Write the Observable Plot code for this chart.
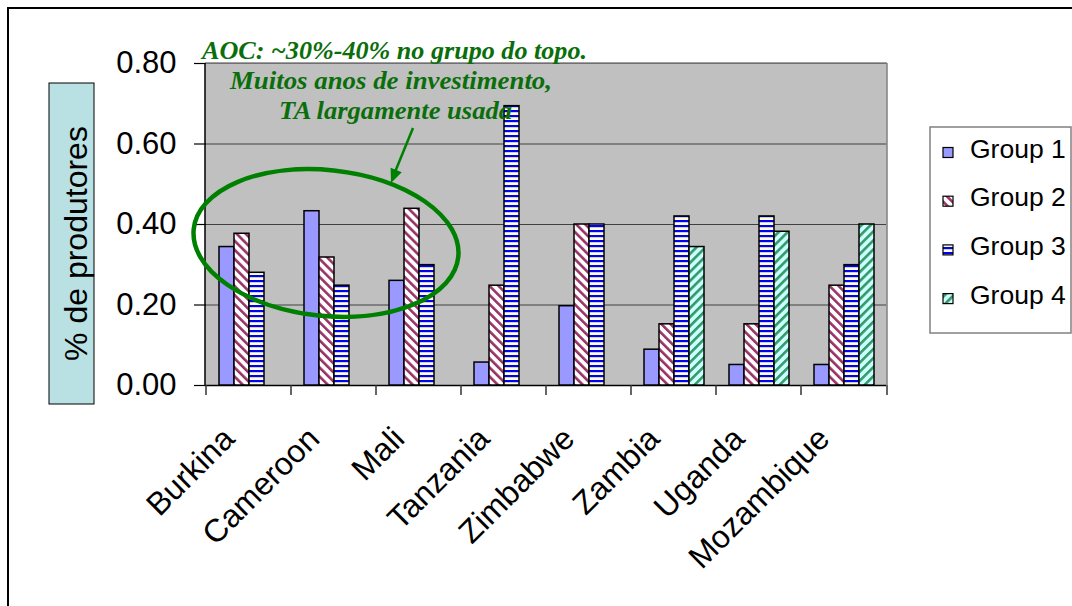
<!DOCTYPE html>
<html>
<head>
<meta charset="utf-8">
<script src="https://cdn.jsdelivr.net/npm/d3@7"></script>
<script src="https://cdn.jsdelivr.net/npm/@observablehq/plot@0.6"></script>
<style>
  html, body { margin: 0; padding: 0; background: #fff; }
  #wrap { position: relative; width: 1072px; height: 606px; overflow: hidden; font-family: "Liberation Sans", Arial, sans-serif; }
  #frame { position: absolute; left: 7px; top: 7px; width: 1100px; height: 700px; border-top: 2px solid #000; border-left: 2px solid #000; }
  #chart { position: absolute; left: 0; top: 0; }
</style>
</head>
<body>
<svg width="0" height="0" style="position:absolute">
  <defs>
    <pattern id="pat2" patternUnits="userSpaceOnUse" width="6.4" height="6.4" patternTransform="rotate(-45)">
      <rect width="6.4" height="6.4" fill="#ffffff"/>
      <rect width="2.6" height="6.4" fill="#993366"/>
    </pattern>
    <pattern id="pat3" patternUnits="userSpaceOnUse" width="5" height="5">
      <rect width="5" height="5" fill="#ffffcc"/>
      <rect y="0" width="5" height="2.2" fill="#0000ff"/>
    </pattern>
    <pattern id="pat4" patternUnits="userSpaceOnUse" width="6.4" height="6.4" patternTransform="rotate(45)">
      <rect width="6.4" height="6.4" fill="#ccffff"/>
      <rect width="2.6" height="6.4" fill="#339966"/>
    </pattern>
  </defs>
</svg>
<div id="wrap">
  <div id="frame"></div>
  <div id="chart"></div>
</div>
<script>
// ---- data ----
const countries = ["Burkina", "Cameroon", "Mali", "Tanzania", "Zimbabwe", "Zambia", "Uganda", "Mozambique"];
const groups = ["Group 1", "Group 2", "Group 3", "Group 4"];
const group1 = [0.344, 0.433, 0.260, 0.057, 0.197, 0.089, 0.051, 0.051];
const group2 = [0.377, 0.318, 0.439, 0.248, 0.400, 0.152, 0.152, 0.248];
const group3 = [0.280, 0.248, 0.299, 0.694, 0.400, 0.420, 0.420, 0.299];
const group4 = [null, null, null, null, null, 0.344, 0.382, 0.400];
const yTicks = [0, 0.2, 0.4, 0.6, 0.8];
const yTitle = "% de produtores";
const noteLines = ["AOC: ~30%-40% no grupo do topo.", "Muitos anos de investimento,", "TA largamente usada"];

const series = [group1, group2, group3, group4];
const groupFills = ["#9999ff", "url(#pat2)", "url(#pat3)", "url(#pat4)"];
const rows = countries.flatMap((c, i) => groups.map((g, j) => ({country: c, group: g, value: series[j][i]})))
  .filter(d => d.value != null);

const W = 1072, H = 606;
const plot = Plot.plot({
  width: W, height: H,
  marginTop: 63, marginRight: 185, marginBottom: 221, marginLeft: 205,
  style: {fontFamily: "'Liberation Sans', Arial, sans-serif", fontSize: "31px", color: "#000", background: "transparent", overflow: "visible"},
  fx: {domain: countries, padding: 0, label: null, axis: null},
  x: {domain: groups, paddingInner: 0, paddingOuter: 0.72, axis: null},
  y: {domain: [0, 0.8], label: null, axis: null},
  color: {domain: groups, range: groupFills},
  marks: [
    Plot.gridY(yTicks, {stroke: "#404040", strokeOpacity: 1, strokeWidth: 1}),
    Plot.ruleY([0], {stroke: "#000", strokeWidth: 1.5}),
    Plot.barY(rows, {fx: "country", x: "group", y: "value", fill: "group", stroke: "#000", strokeWidth: 1.5}),
    Plot.axisY(yTicks, {tickFormat: d => d.toFixed(2), tickSize: 12, tickPadding: 18, label: null, strokeWidth: 1.2}),
    Plot.axisFx({anchor: "bottom", tickRotate: -45, tickSize: 0, tickPadding: 0, dx: -20, dy: 48, label: null, fontSize: 32})
  ]
});
document.getElementById("chart").appendChild(plot);

// ---- decorations using the plot's scales ----
const svg = d3.select(plot);
const fx = plot.scale("fx"), y = plot.scale("y");
const x0 = fx.range[0], x1 = fx.range[1];
const yTop = y.apply(0.8), yBot = y.apply(0);
svg.insert("rect", "g").attr("x", x0).attr("y", yTop).attr("width", x1 - x0).attr("height", yBot - yTop).attr("fill", "#c0c0c0");
const deco = svg.append("g");
deco.append("line").attr("x1", x0).attr("x2", x1).attr("y1", yTop).attr("y2", yTop).attr("stroke", "#808080").attr("stroke-width", 1.5);
deco.append("line").attr("x1", x1).attr("x2", x1).attr("y1", yTop).attr("y2", yBot).attr("stroke", "#808080").attr("stroke-width", 1.5);
deco.append("line").attr("x1", x0).attr("x2", x0).attr("y1", yTop).attr("y2", yBot).attr("stroke", "#000").attr("stroke-width", 1.5);
const bounds = countries.map(c => fx.apply(c)).concat([x1]);
bounds.forEach(b => deco.append("line").attr("x1", b).attr("x2", b).attr("y1", yBot).attr("y2", yBot + 10).attr("stroke", "#333").attr("stroke-width", 1.5));

// annotation
const green = "#008000";
const ann = svg.append("g");
ann.append("ellipse").attr("cx", 0).attr("cy", 0).attr("rx", 133).attr("ry", 73)
  .attr("transform", "translate(326,243) rotate(6)")
  .attr("fill", "none").attr("stroke", green).attr("stroke-width", 4.5);
ann.append("line").attr("x1", 413).attr("y1", 128).attr("x2", 395).attr("y2", 172)
  .attr("stroke", green).attr("stroke-width", 2.5);
ann.append("path").attr("d", "M0,0 L-6,-14 L6,-14 Z").attr("fill", green)
  .attr("transform", "translate(391,183) rotate(21.8)");
const noteLayout = [{cx: 394.5, y: 59, w: 385}, {cx: 391, y: 89, w: 322}, {cx: 395.5, y: 119, w: 233}];
noteLines.forEach((t, i) => {
  ann.append("text").text(t)
    .attr("x", noteLayout[i].cx).attr("y", noteLayout[i].y)
    .attr("text-anchor", "middle")
    .attr("textLength", noteLayout[i].w).attr("lengthAdjust", "spacingAndGlyphs")
    .attr("font-family", "'Liberation Serif', 'DejaVu Serif', serif")
    .attr("font-style", "italic").attr("font-weight", "bold")
    .attr("font-size", 25).attr("fill", "#0a6e0a");
});

// y title box
const yt = svg.append("g");
yt.append("rect").attr("x", 49).attr("y", 83).attr("width", 45).attr("height", 321)
  .attr("fill", "#b9e0e2").attr("stroke", "#000").attr("stroke-width", 1);
yt.append("text").text(yTitle).attr("transform", "translate(76,243.5) rotate(-90)")
  .attr("text-anchor", "middle").attr("dominant-baseline", "central")
  .attr("font-size", 32).attr("fill", "#000");

// legend
const lg = svg.append("g").attr("transform", "translate(930,127)");
lg.append("rect").attr("width", 141).attr("height", 206).attr("fill", "#fff").attr("stroke", "#808080").attr("stroke-width", 1.5);
groups.forEach((g, i) => {
  const yy = 30.5 + i * 48.7;
  lg.append("rect").attr("x", 13).attr("y", yy - 10).attr("width", 10).attr("height", 10)
    .attr("fill", groupFills[i]).attr("stroke", "#000").attr("stroke-width", 1.2);
  lg.append("text").text(g).attr("x", 40).attr("y", yy).attr("text-anchor", "start")
    .attr("font-size", 26.5).attr("fill", "#000");
});
</script>
</body>
</html>
